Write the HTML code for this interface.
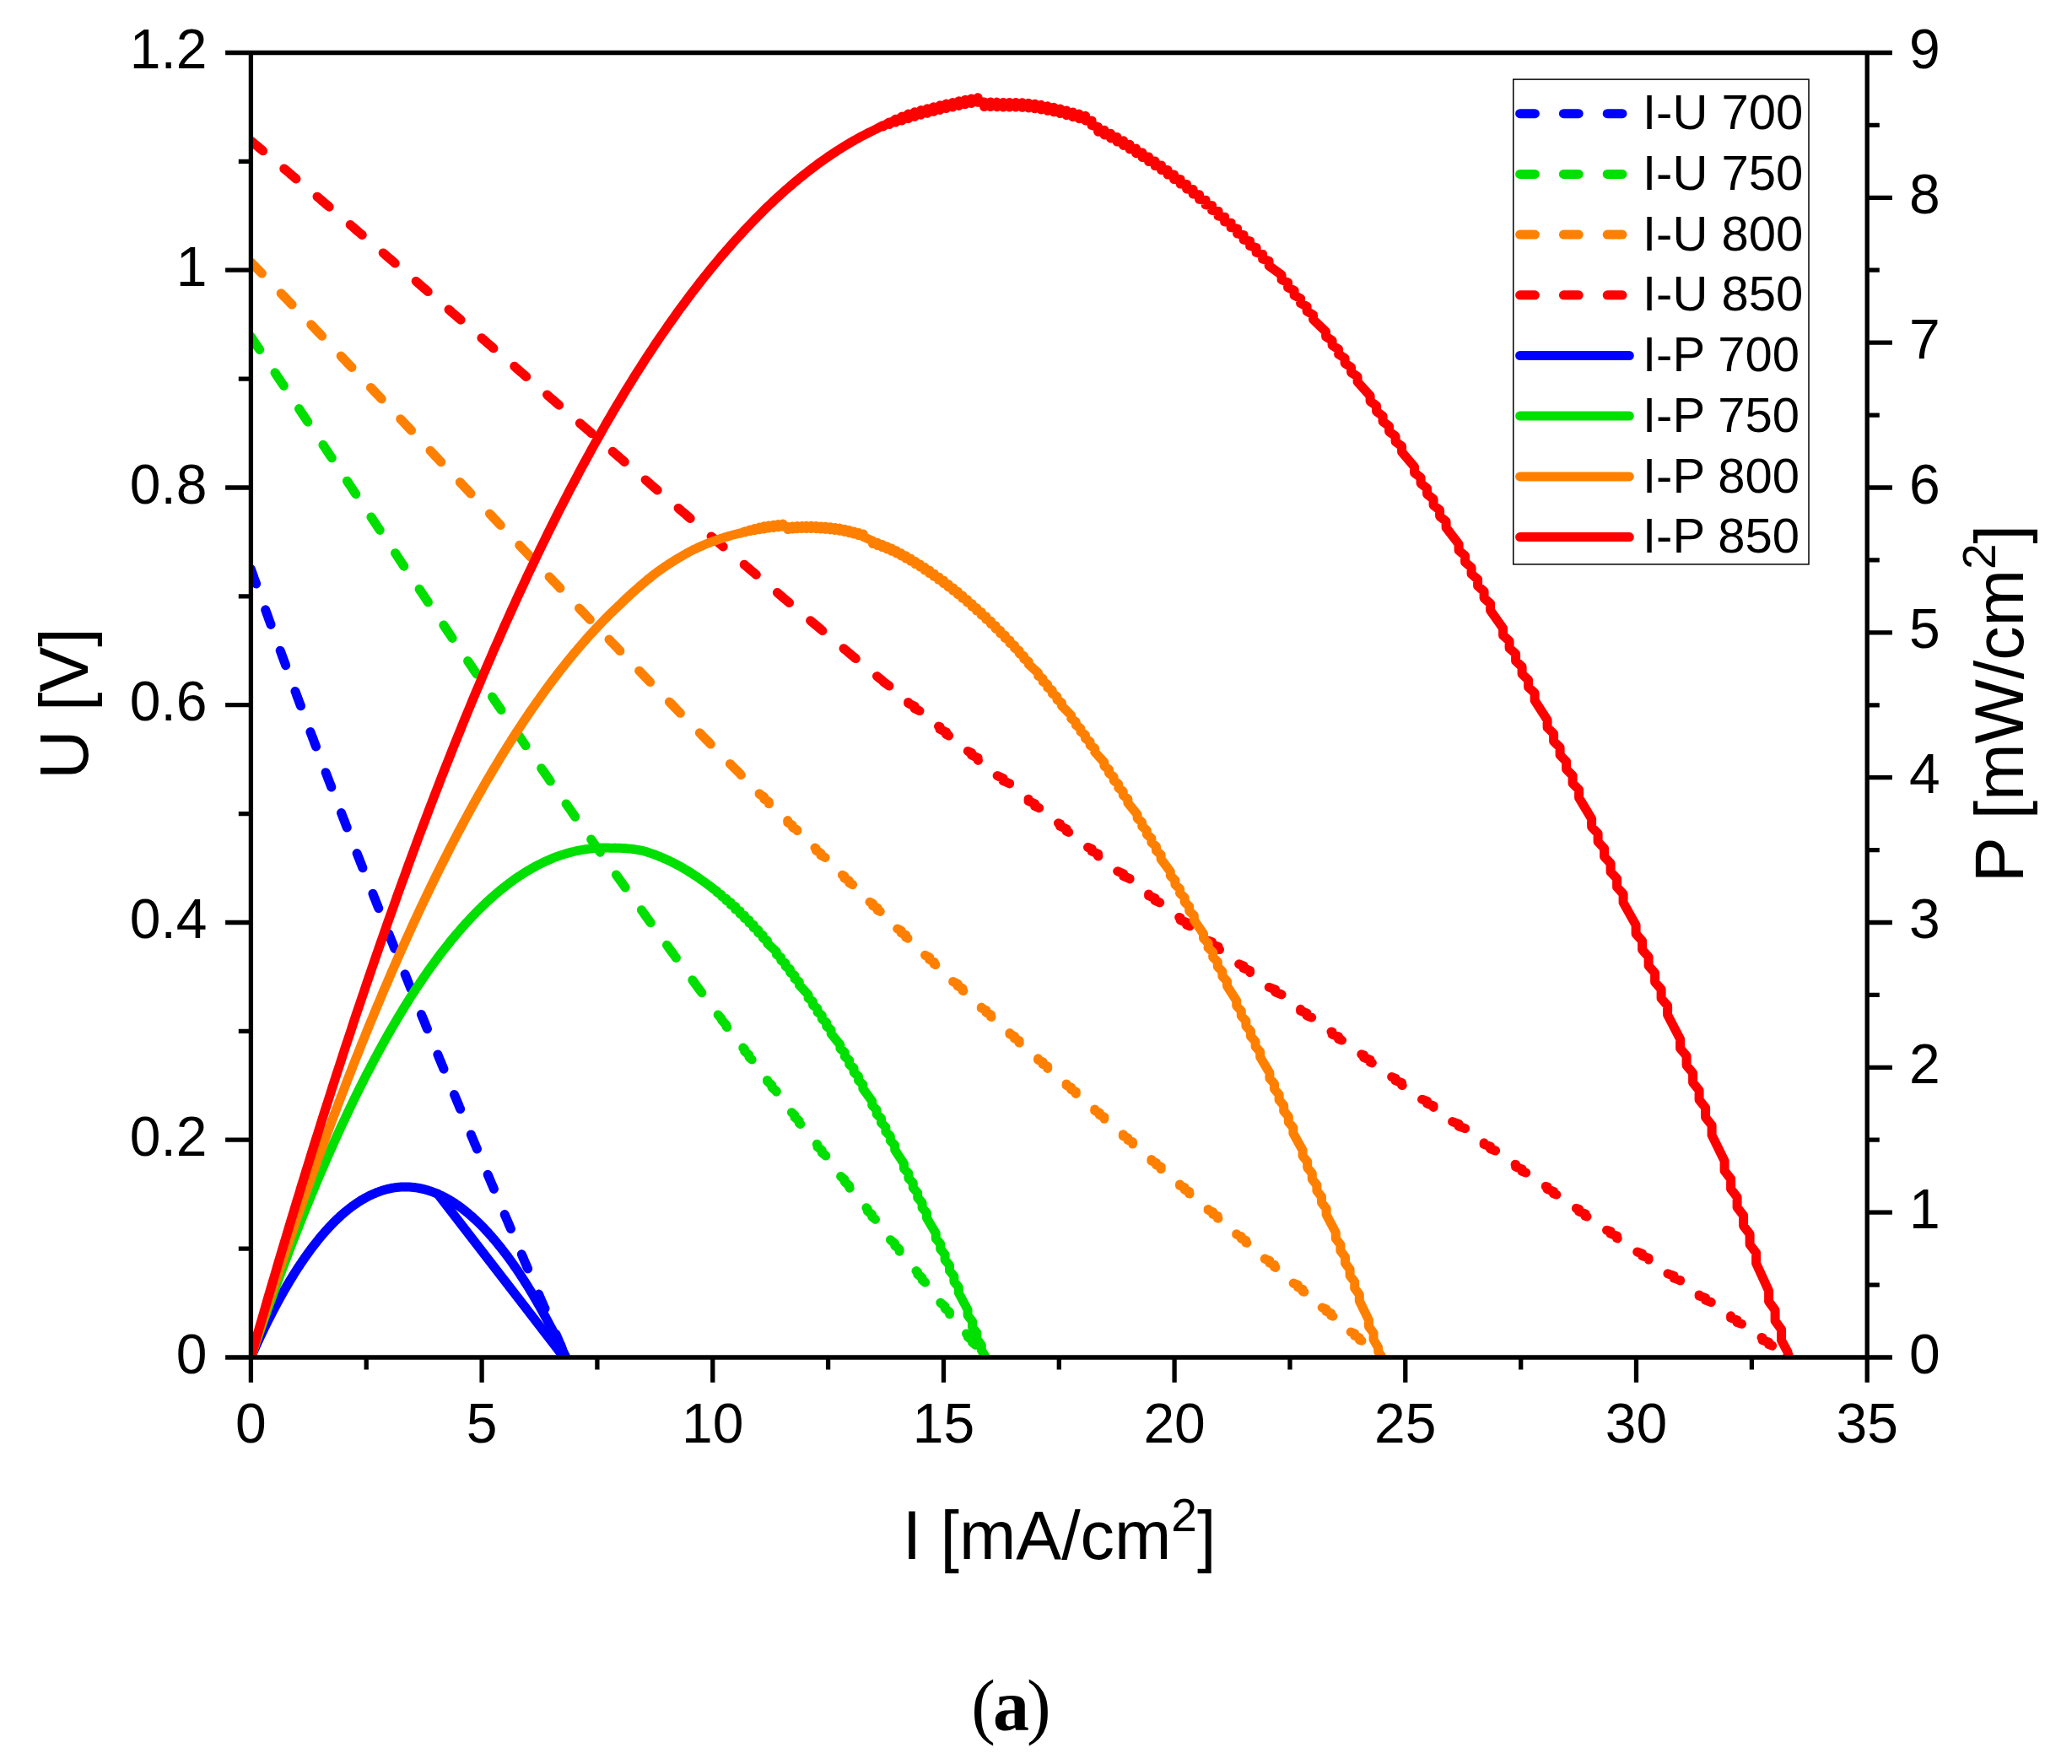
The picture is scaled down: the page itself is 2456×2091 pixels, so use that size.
<!DOCTYPE html>
<html lang="en"><head><meta charset="utf-8"><title>I-U and I-P curves</title>
<style>html,body{margin:0;padding:0;background:#fff}svg{display:block}text{font-family:"Liberation Sans", Arial, Helvetica, sans-serif;fill:#000}</style></head><body>
<svg width="2456" height="2091" viewBox="0 0 2456 2091">
<rect width="2456" height="2091" fill="#fff"/>
<defs><clipPath id="pa"><rect x="297.4" y="62.5" width="1915.8" height="1547.3"/></clipPath></defs>
<g clip-path="url(#pa)" fill="none" stroke-linejoin="round">
<polyline points="297.4,674.5 298.3,677.2 299.3,679.8 300.2,682.4 301.1,685.1 302.1,687.7 303.0,690.3 304.0,692.9 304.9,695.6 305.8,698.2 306.8,700.8 307.7,703.4 308.6,706.0 309.6,708.6 310.5,711.2 311.4,713.8 312.4,716.5 313.3,719.1 314.3,721.7 315.2,724.3 316.1,726.9 317.1,729.4 318.0,732.0 318.9,734.6 319.9,737.2 320.8,739.8 321.7,742.4 322.7,745.0 323.6,747.5 324.5,750.1 325.5,752.7 326.4,755.3 327.4,757.9 328.3,760.4 329.2,763.0 330.2,765.6 331.1,768.1 332.0,770.7 333.0,773.2 333.9,775.8 334.8,778.4 335.8,780.9 336.7,783.5 337.7,786.0 338.6,788.6 339.5,791.1 340.5,793.7 341.4,796.2 342.3,798.7 343.3,801.3 344.2,803.8 345.1,806.4 346.1,808.9 347.0,811.4 348.0,814.0 348.9,816.5 349.8,819.0 350.8,821.5 351.7,824.1 352.6,826.6 353.6,829.1 354.5,831.6 355.4,834.1 356.4,836.6 357.3,839.2 358.3,841.7 359.2,844.2 360.1,846.7 361.1,849.2 362.0,851.7 362.9,854.2 363.9,856.7 364.8,859.2 365.7,861.7 366.7,864.2 367.6,866.7 368.5,869.2 369.5,871.6 370.4,874.1 371.4,876.6 372.3,879.1 373.2,881.6 374.2,884.1 375.1,886.5 376.0,889.0 377.0,891.5 377.9,894.0 378.8,896.4 379.8,898.9 380.7,901.4 381.7,903.8 382.6,906.3 383.5,908.8 384.5,911.2 385.4,913.7 386.3,916.1 387.3,918.6 388.2,921.1 389.1,923.5 390.1,926.0 391.0,928.4 392.0,930.9 392.9,933.3 393.8,935.8 394.8,938.2 395.7,940.6 396.6,943.1 397.6,945.5 398.5,948.0 399.4,950.4 400.4,952.8 401.3,955.3 402.2,957.7 403.2,960.1 404.1,962.5 405.1,965.0 406.0,967.4 406.9,969.8 407.9,972.2 408.8,974.7 409.7,977.1 410.7,979.5 411.6,981.9 412.5,984.3 413.5,986.7 414.4,989.2 415.4,991.6 416.3,994.0 417.2,996.4 418.2,998.8 419.1,1001.2 420.0,1003.6 421.0,1006.0 421.9,1008.4 422.8,1010.8 423.8,1013.2 424.7,1015.6 425.7,1018.0 426.6,1020.4 427.5,1022.8 428.5,1025.1 429.4,1027.5 430.3,1029.9 431.3,1032.3 432.2,1034.7 433.1,1037.1 434.1,1039.4 435.0,1041.8 436.0,1044.2 436.9,1046.6 437.8,1049.0 438.8,1051.3 439.7,1053.7 440.6,1056.1 441.6,1058.4 442.5,1060.8 443.4,1063.2 444.4,1065.5 445.3,1067.9 446.2,1070.3 447.2,1072.6 448.1,1075.0 449.1,1077.4 450.0,1079.7 450.9,1082.1 451.9,1084.4 452.8,1086.8 453.7,1089.1 454.7,1091.5 455.6,1093.8 456.5,1096.2 457.5,1098.5 458.4,1100.9 459.4,1103.2 460.3,1105.6 461.2,1107.9 462.2,1110.3 463.1,1112.6 464.0,1114.9 465.0,1117.3 465.9,1119.6 466.8,1121.9 467.8,1124.3 468.7,1126.6 469.7,1128.9 470.6,1131.3 471.5,1133.6 472.5,1135.9 473.4,1138.3 474.3,1140.6 475.3,1142.9 476.2,1145.2 477.1,1147.5 478.1,1149.9 479.0,1152.2 480.0,1154.5 480.9,1156.8 481.8,1159.1 482.8,1161.5 483.7,1163.8 484.6,1166.1 485.6,1168.4 486.5,1170.7 487.4,1173.0 488.4,1175.3 489.3,1177.6 490.2,1179.9 491.2,1182.2 492.1,1184.5 493.1,1186.9 494.0,1189.2 494.9,1191.5 495.9,1193.8 496.8,1196.1 497.7,1198.4 498.7,1200.6 499.6,1202.9 500.5,1205.2 501.5,1207.5 502.4,1209.8 503.4,1212.1 504.3,1214.4 505.2,1216.7 506.2,1219.0 507.1,1221.3 508.0,1223.6 509.0,1225.8 509.9,1228.1 510.8,1230.4 511.8,1232.7 512.7,1235.0 513.7,1237.3 514.6,1239.5 515.5,1241.8 516.5,1244.1 517.4,1246.4 518.3,1248.6 519.3,1250.9 520.2,1253.2 521.1,1255.5 522.1,1257.7 523.0,1260.0 523.9,1262.3 524.9,1264.5 525.8,1266.8 526.8,1269.1 527.7,1271.3 528.6,1273.6 529.6,1275.9 530.5,1278.1 531.4,1280.4 532.4,1282.7 533.3,1284.9 534.2,1287.2 535.2,1289.4 536.1,1291.7 537.1,1293.9 538.0,1296.2 538.9,1298.5 539.9,1300.7 540.8,1303.0 541.7,1305.2 542.7,1307.5 543.6,1309.7 544.5,1312.0 545.5,1314.2 546.4,1316.5 547.4,1318.7 548.3,1321.0 549.2,1323.2 550.2,1325.4 551.1,1327.7 552.0,1329.9 553.0,1332.2 553.9,1334.4 554.8,1336.7 555.8,1338.9 556.7,1341.1 557.7,1343.4 558.6,1345.6 559.5,1347.8 560.5,1350.1 561.4,1352.3 562.3,1354.6 563.3,1356.8 564.2,1359.0 565.1,1361.2 566.1,1363.5 567.0,1365.7 567.9,1367.9 568.9,1370.2 569.8,1372.4 570.8,1374.6 571.7,1376.8 572.6,1379.1 573.6,1381.3 574.5,1383.5 575.4,1385.7 576.4,1388.0 577.3,1390.2 578.2,1392.4 579.2,1394.6 580.1,1396.8 581.1,1399.1 582.0,1401.3 582.9,1403.5 583.9,1405.7 584.8,1407.9 585.7,1410.1 586.7,1412.4 587.6,1414.6 588.5,1416.8 589.5,1419.0 590.4,1421.2 591.4,1423.4 592.3,1425.6 593.2,1427.8 594.2,1430.1 595.1,1432.3 596.0,1434.5 597.0,1436.7 597.9,1438.9 598.8,1441.1 599.8,1443.3 600.7,1445.5 601.7,1447.7 602.6,1449.9 603.5,1452.1 604.5,1454.3 605.4,1456.5 606.3,1458.7 607.3,1460.9 608.2,1463.1 609.1,1465.3 610.1,1467.5 611.0,1469.7 611.9,1471.9 612.9,1474.1 613.8,1476.3 614.8,1478.5 615.7,1480.7 616.6,1482.9 617.6,1485.1 618.5,1487.2 619.4,1489.4 620.4,1491.6 621.3,1493.8 622.2,1496.0 623.2,1498.2 624.1,1500.4 625.1,1502.6 626.0,1504.8 626.9,1506.9 627.9,1509.1 628.8,1511.3 629.7,1513.5 630.7,1515.7 631.6,1517.9 632.5,1520.0 633.5,1522.2 634.4,1524.4 635.4,1526.6 636.3,1528.8 637.2,1530.9 638.2,1533.1 639.1,1535.3 640.0,1537.5 641.0,1539.7 641.9,1541.8 642.8,1544.0 643.8,1546.2 644.7,1548.4 645.7,1550.5 646.6,1552.7 647.5,1554.9 648.5,1557.0 649.4,1559.2 650.3,1561.4 651.3,1563.6 652.2,1565.7 653.1,1567.9 654.1,1570.1 655.0,1572.2 655.9,1574.4 656.9,1576.6 657.8,1578.7 658.8,1580.9 659.7,1583.1 660.6,1585.2 661.6,1587.4 662.5,1589.6 663.4,1591.7 664.4,1593.9 665.3,1596.0 666.2,1598.2 667.2,1600.4 668.1,1602.5 669.1,1604.7 670.0,1606.8 670.9,1609.0" stroke="#0000ff" stroke-width="11" stroke-linecap="round" stroke-dasharray="18.6 32.8"/>
<polyline points="297.4,399.1 299.2,401.8 301.0,404.5 302.8,407.2 304.6,409.9 306.5,412.6 308.3,415.3 310.1,418.0 311.9,420.7 313.7,423.5 315.5,426.2 317.3,428.9 319.1,431.6 321.0,434.3 322.8,437.0 324.6,439.7 326.4,442.4 328.2,445.2 330.0,447.9 331.8,450.6 333.6,453.3 335.5,456.0 337.3,458.8 339.1,461.5 340.9,464.2 342.7,466.9 344.5,469.6 346.3,472.3 348.1,475.1 350.0,477.8 351.8,480.5 353.6,483.2 355.4,486.0 357.2,488.7 359.0,491.4 360.8,494.1 362.6,496.8 364.5,499.6 366.3,502.3 368.1,505.0 369.9,507.7 371.7,510.5 373.5,513.2 375.3,515.9 377.1,518.6 379.0,521.4 380.8,524.1 382.6,526.8 384.4,529.5 386.2,532.2 388.0,535.0 389.8,537.7 391.6,540.4 393.5,543.1 395.3,545.9 397.1,548.6 398.9,551.3 400.7,554.0 402.5,556.8 404.3,559.5 406.1,562.2 408.0,564.9 409.8,567.7 411.6,570.4 413.4,573.1 415.2,575.8 417.0,578.5 418.8,581.3 420.6,584.0 422.5,586.7 424.3,589.4 426.1,592.1 427.9,594.9 429.7,597.6 431.5,600.3 433.3,603.0 435.1,605.7 437.0,608.5 438.8,611.2 440.6,613.9 442.4,616.6 444.2,619.3 446.0,622.1 447.8,624.8 449.6,627.5 451.5,630.2 453.3,632.9 455.1,635.6 456.9,638.3 458.7,641.1 460.5,643.8 462.3,646.5 464.1,649.2 466.0,651.9 467.8,654.6 469.6,657.3 471.4,660.0 473.2,662.8 475.0,665.5 476.8,668.2 478.6,670.9 480.4,673.6 482.3,676.3 484.1,679.0 485.9,681.7 487.7,684.4 489.5,687.1 491.3,689.8 493.1,692.5 494.9,695.2 496.8,697.9 498.6,700.6 500.4,703.3 502.2,706.0 504.0,708.7 505.8,711.4 507.6,714.1 509.4,716.8 511.3,719.5 513.1,722.2 514.9,724.9 516.7,727.6 518.5,730.3 520.3,733.0 522.1,735.6 523.9,738.3 525.8,741.0 527.6,743.7 529.4,746.4 531.2,749.1 533.0,751.8 534.8,754.4 536.6,757.1 538.4,759.8 540.3,762.5 542.1,765.2 543.9,767.8 545.7,770.5 547.5,773.2 549.3,775.9 551.1,778.5 552.9,781.2 554.8,783.9 556.6,786.6 558.4,789.2 560.2,791.9 562.0,794.6 563.8,797.2 565.6,799.9 567.4,802.6 569.3,805.2 571.1,807.9 572.9,810.6 574.7,813.2 576.5,815.9 578.3,818.5 580.1,821.2 581.9,823.8 583.8,826.5 585.6,829.2 587.4,831.8 589.2,834.5 591.0,837.1 592.8,839.8 594.6,842.4 596.4,845.0 598.3,847.7 600.1,850.3 601.9,853.0 603.7,855.6 605.5,858.3 607.3,860.9 609.1,863.5 610.9,866.2 612.8,868.8 614.6,871.4 616.4,874.1 618.2,876.7 620.0,879.3 621.8,882.0 623.6,884.6 625.4,887.2 627.3,889.8 629.1,892.5 630.9,895.1 632.7,897.7 634.5,900.3 636.3,903.0 638.1,905.6 639.9,908.2 641.7,910.8 643.6,913.4 645.4,916.0 647.2,918.6 649.0,921.2 650.8,923.9 652.6,926.5 654.4,929.1 656.2,931.7 658.1,934.3 659.9,936.9 661.7,939.5 663.5,942.1 665.3,944.7 667.1,947.3 668.9,949.9 670.7,952.4 672.6,955.0 674.4,957.6 676.2,960.2 678.0,962.8 679.8,965.4 681.6,968.0 683.4,970.5 685.2,973.1 687.1,975.7 688.9,978.3 690.7,980.9 692.5,983.4 694.3,986.0 696.1,988.6 697.9,991.2 699.7,993.7 701.6,996.3 703.4,998.9 705.2,1001.4 707.0,1004.0 708.8,1006.5 710.6,1009.1 712.4,1011.7 714.2,1014.2 716.1,1016.8 717.9,1019.3 719.7,1021.9 721.5,1024.4 723.3,1027.0 725.1,1029.5 726.9,1032.1 728.7,1034.6 730.6,1037.2 732.4,1039.7 734.2,1042.2 736.0,1044.8 737.8,1047.3 739.6,1049.8 741.4,1052.4 743.2,1054.9 745.1,1057.4 746.9,1060.0 748.7,1062.5 750.5,1065.0 752.3,1067.5 754.1,1070.1 755.9,1072.6 757.7,1075.1 759.6,1077.6 761.4,1080.1 763.2,1082.7 765.0,1085.2 766.8,1087.7 768.6,1090.2 770.4,1092.7 772.2,1095.2 774.1,1097.7 775.9,1100.2 777.7,1102.7 779.5,1105.2 781.3,1107.7 783.1,1110.2 784.9,1112.7 786.7,1115.2 788.6,1117.7 790.4,1120.2 792.2,1122.7 794.0,1125.2 795.8,1127.7 797.6,1130.1 799.4,1132.6 801.2,1135.1 803.1,1137.6 804.9,1140.1 806.7,1142.5 808.5,1145.0 810.3,1147.5 812.1,1150.0 813.9,1152.4 815.7,1154.9 817.5,1157.4 819.4,1159.8 821.2,1162.3 823.0,1164.8 824.8,1167.2 826.6,1169.7 828.4,1172.1 830.2,1174.6 832.0,1177.0 833.9,1179.5 835.7,1182.0 837.5,1184.4 839.3,1186.9 844.7,1193.9 844.7,1194.3 850.1,1201.0 850.1,1201.8 855.5,1208.1 855.5,1209.3 860.9,1215.1 860.9,1216.7 866.3,1222.2 866.3,1224.1 871.7,1229.2 871.7,1231.5 877.1,1236.4 877.1,1238.8 882.5,1243.6 882.5,1246.0 887.9,1250.7 887.9,1253.1 893.3,1257.9 893.3,1260.3 898.7,1265.0 898.7,1267.4 904.1,1272.2 904.1,1274.6 909.5,1279.3 909.5,1281.7 914.9,1286.4 914.9,1288.8 920.3,1293.5 920.3,1295.9 925.7,1300.6 925.7,1303.0 931.1,1307.7 931.1,1310.1 936.5,1314.7 936.5,1317.1 941.9,1321.8 941.9,1324.2 947.3,1328.8 947.3,1331.2 952.7,1335.8 952.7,1338.2 958.1,1342.9 958.1,1345.3 963.5,1349.9 963.5,1352.3 968.9,1356.8 968.9,1359.2 974.3,1363.8 974.3,1366.2 979.7,1370.8 979.7,1373.2 985.1,1377.7 985.1,1380.1 990.5,1384.7 990.5,1387.1 995.9,1391.6 995.9,1394.0 1001.3,1398.5 1001.3,1400.9 1006.7,1405.4 1006.7,1407.8 1012.1,1412.3 1012.1,1414.7 1017.5,1419.2 1017.5,1421.6 1022.9,1426.1 1022.9,1428.5 1028.3,1433.0 1028.3,1435.4 1033.7,1439.8 1033.7,1442.2 1039.1,1446.7 1039.1,1449.1 1044.5,1453.5 1044.5,1455.9 1049.9,1460.4 1049.9,1462.8 1055.3,1467.2 1055.3,1469.6 1060.7,1474.0 1060.7,1476.4 1066.1,1480.8 1066.1,1483.2 1071.5,1487.6 1071.5,1490.0 1076.9,1494.4 1076.9,1496.8 1082.3,1501.2 1082.3,1503.6 1087.7,1508.0 1087.7,1510.4 1093.1,1514.8 1093.1,1517.2 1098.5,1521.5 1098.5,1523.9 1103.9,1528.3 1103.9,1530.7 1109.3,1535.0 1109.3,1537.4 1114.7,1541.8 1114.7,1544.2 1120.1,1548.5 1120.1,1550.9 1125.5,1555.3 1125.5,1557.7 1130.9,1562.0 1130.9,1564.4 1136.3,1568.7 1136.3,1571.1 1141.7,1575.4 1141.7,1577.8 1147.1,1582.2 1147.1,1584.6 1152.5,1588.9 1152.5,1591.3 1157.9,1595.6 1157.9,1598.0 1163.3,1602.3 1163.3,1604.7 1167.7,1607.8 1167.7,1610.2" stroke="#00e000" stroke-width="11" stroke-linecap="round" stroke-dasharray="18.6 32.8"/>
<polyline points="297.4,310.8 299.3,312.7 301.2,314.7 303.2,316.7 305.1,318.7 307.0,320.7 308.9,322.6 310.9,324.6 312.8,326.6 314.7,328.6 316.6,330.6 318.5,332.6 320.5,334.6 322.4,336.6 324.3,338.6 326.2,340.5 328.2,342.5 330.1,344.5 332.0,346.5 333.9,348.5 335.8,350.5 337.8,352.5 339.7,354.5 341.6,356.5 343.5,358.5 345.5,360.5 347.4,362.5 349.3,364.5 351.2,366.5 353.1,368.5 355.1,370.6 357.0,372.6 358.9,374.6 360.8,376.6 362.8,378.6 364.7,380.6 366.6,382.6 368.5,384.6 370.4,386.6 372.4,388.6 374.3,390.7 376.2,392.7 378.1,394.7 380.1,396.7 382.0,398.7 383.9,400.7 385.8,402.8 387.7,404.8 389.7,406.8 391.6,408.8 393.5,410.8 395.4,412.9 397.4,414.9 399.3,416.9 401.2,418.9 403.1,421.0 405.0,423.0 407.0,425.0 408.9,427.0 410.8,429.1 412.7,431.1 414.7,433.1 416.6,435.1 418.5,437.2 420.4,439.2 422.3,441.2 424.3,443.3 426.2,445.3 428.1,447.3 430.0,449.4 432.0,451.4 433.9,453.4 435.8,455.5 437.7,457.5 439.6,459.5 441.6,461.6 443.5,463.6 445.4,465.6 447.3,467.7 449.3,469.7 451.2,471.7 453.1,473.8 455.0,475.8 456.9,477.8 458.9,479.9 460.8,481.9 462.7,484.0 464.6,486.0 466.6,488.0 468.5,490.1 470.4,492.1 472.3,494.2 474.2,496.2 476.2,498.2 478.1,500.3 480.0,502.3 481.9,504.4 483.9,506.4 485.8,508.4 487.7,510.5 489.6,512.5 491.5,514.6 493.5,516.6 495.4,518.6 497.3,520.7 499.2,522.7 501.2,524.8 503.1,526.8 505.0,528.8 506.9,530.9 508.8,532.9 510.8,535.0 512.7,537.0 514.6,539.1 516.5,541.1 518.5,543.1 520.4,545.2 522.3,547.2 524.2,549.3 526.1,551.3 528.1,553.4 530.0,555.4 531.9,557.4 533.8,559.5 535.8,561.5 537.7,563.6 539.6,565.6 541.5,567.6 543.4,569.7 545.4,571.7 547.3,573.8 549.2,575.8 551.1,577.9 553.1,579.9 555.0,581.9 556.9,584.0 558.8,586.0 560.7,588.1 562.7,590.1 564.6,592.1 566.5,594.2 568.4,596.2 570.4,598.3 572.3,600.3 574.2,602.3 576.1,604.4 578.0,606.4 580.0,608.5 581.9,610.5 583.8,612.5 585.7,614.6 587.7,616.6 589.6,618.7 591.5,620.7 593.4,622.7 595.3,624.8 597.3,626.8 599.2,628.8 601.1,630.9 603.0,632.9 605.0,635.0 606.9,637.0 608.8,639.0 610.7,641.1 612.6,643.1 614.6,645.1 616.5,647.2 618.4,649.2 620.3,651.2 622.3,653.3 624.2,655.3 626.1,657.3 628.0,659.4 629.9,661.4 631.9,663.4 633.8,665.4 635.7,667.5 637.6,669.5 639.6,671.5 641.5,673.6 643.4,675.6 645.3,677.6 647.2,679.6 649.2,681.7 651.1,683.7 653.0,685.7 654.9,687.8 656.9,689.8 658.8,691.8 660.7,693.8 662.6,695.8 664.5,697.9 666.5,699.9 668.4,701.9 670.3,703.9 672.2,706.0 674.2,708.0 676.1,710.0 678.0,712.0 679.9,714.0 681.8,716.1 683.8,718.1 685.7,720.1 687.6,722.1 689.5,724.1 691.5,726.1 693.4,728.1 695.3,730.2 697.2,732.2 699.1,734.2 701.1,736.2 703.0,738.2 704.9,740.2 706.8,742.2 708.8,744.2 710.7,746.3 712.6,748.3 714.5,750.3 716.4,752.3 718.4,754.3 720.3,756.3 722.2,758.3 724.1,760.3 726.1,762.3 728.0,764.3 729.9,766.3 731.8,768.3 733.7,770.3 735.7,772.3 737.6,774.3 739.5,776.3 741.4,778.3 743.4,780.3 745.3,782.3 747.2,784.3 749.1,786.3 751.0,788.3 753.0,790.3 754.9,792.3 756.8,794.3 758.7,796.2 760.7,798.2 762.6,800.2 764.5,802.2 766.4,804.2 768.3,806.2 770.3,808.2 772.2,810.2 774.1,812.2 776.0,814.1 778.0,816.1 779.9,818.1 781.8,820.1 783.7,822.1 785.6,824.0 787.6,826.0 789.5,828.0 791.4,830.0 793.3,832.0 795.3,833.9 797.2,835.9 799.1,837.9 801.0,839.9 802.9,841.8 804.9,843.8 806.8,845.8 808.7,847.7 810.6,849.7 812.6,851.7 814.5,853.6 816.4,855.6 818.3,857.6 820.2,859.5 822.2,861.5 824.1,863.5 826.0,865.4 827.9,867.4 829.9,869.3 831.8,871.3 833.7,873.3 835.6,875.2 837.5,877.2 839.5,879.1 841.4,881.1 843.3,883.0 845.2,885.0 847.2,886.9 849.1,888.9 851.0,890.8 852.9,892.8 854.8,894.7 856.8,896.7 858.7,898.6 860.6,900.6 862.5,902.5 864.5,904.5 866.4,906.4 868.3,908.3 870.2,910.3 872.1,912.2 877.7,917.7 877.7,918.1 883.3,923.1 883.3,923.9 888.9,928.5 888.9,929.7 894.5,933.9 894.5,935.6 900.1,939.3 900.1,941.4 905.7,944.8 905.7,947.2 911.3,950.3 911.3,952.7 916.9,955.9 916.9,958.3 922.5,961.5 922.5,963.9 928.1,967.1 928.1,969.5 933.7,972.6 933.7,975.0 939.3,978.2 939.3,980.6 944.9,983.7 944.9,986.1 950.5,989.2 950.5,991.6 956.1,994.8 956.1,997.2 961.7,1000.3 961.7,1002.7 967.3,1005.8 967.3,1008.2 972.9,1011.3 972.9,1013.7 978.5,1016.7 978.5,1019.1 984.1,1022.2 984.1,1024.6 989.7,1027.7 989.7,1030.1 995.3,1033.1 995.3,1035.5 1000.9,1038.6 1000.9,1041.0 1006.5,1044.0 1006.5,1046.4 1012.1,1049.5 1012.1,1051.9 1017.7,1054.9 1017.7,1057.3 1023.3,1060.3 1023.3,1062.7 1028.9,1065.7 1028.9,1068.1 1034.5,1071.1 1034.5,1073.5 1040.1,1076.4 1040.1,1078.8 1045.7,1081.8 1045.7,1084.2 1051.3,1087.2 1051.3,1089.6 1056.9,1092.5 1056.9,1094.9 1062.5,1097.9 1062.5,1100.3 1068.1,1103.2 1068.1,1105.6 1073.7,1108.5 1073.7,1110.9 1079.3,1113.9 1079.3,1116.3 1084.9,1119.2 1084.9,1121.6 1090.5,1124.5 1090.5,1126.9 1096.1,1129.7 1096.1,1132.1 1101.7,1135.0 1101.7,1137.4 1107.3,1140.3 1107.3,1142.7 1112.9,1145.5 1112.9,1147.9 1118.5,1150.8 1118.5,1153.2 1124.1,1156.0 1124.1,1158.4 1129.7,1161.3 1129.7,1163.7 1135.3,1166.5 1135.3,1168.9 1140.9,1171.7 1140.9,1174.1 1146.5,1176.9 1146.5,1179.3 1152.1,1182.1 1152.1,1184.5 1157.7,1187.3 1157.7,1189.7 1163.3,1192.5 1163.3,1194.9 1168.9,1197.6 1168.9,1200.0 1174.5,1202.8 1174.5,1205.2 1180.1,1208.0 1180.1,1210.4 1185.7,1213.1 1185.7,1215.5 1191.3,1218.2 1191.3,1220.6 1196.9,1223.4 1196.9,1225.8 1202.5,1228.5 1202.5,1230.9 1208.1,1233.6 1208.1,1236.0 1213.7,1238.7 1213.7,1241.1 1219.3,1243.8 1219.3,1246.2 1224.9,1248.9 1224.9,1251.3 1230.5,1253.9 1230.5,1256.3 1236.1,1259.0 1236.1,1261.4 1241.7,1264.1 1241.7,1266.5 1247.3,1269.1 1247.3,1271.5 1252.9,1274.1 1252.9,1276.5 1258.5,1279.2 1258.5,1281.6 1264.1,1284.2 1264.1,1286.6 1269.7,1289.2 1269.7,1291.6 1275.3,1294.2 1275.3,1296.6 1280.9,1299.2 1280.9,1301.6 1286.5,1304.2 1286.5,1306.6 1292.1,1309.2 1292.1,1311.6 1297.7,1314.2 1297.7,1316.6 1303.3,1319.2 1303.3,1321.6 1308.9,1324.2 1308.9,1326.6 1314.5,1329.1 1314.5,1331.5 1320.1,1334.1 1320.1,1336.5 1325.7,1339.0 1325.7,1341.4 1331.3,1344.0 1331.3,1346.4 1336.9,1348.9 1336.9,1351.3 1342.5,1353.8 1342.5,1356.2 1348.1,1358.8 1348.1,1361.2 1353.7,1363.7 1353.7,1366.1 1359.3,1368.6 1359.3,1371.0 1364.9,1373.5 1364.9,1375.9 1370.5,1378.4 1370.5,1380.8 1376.1,1383.3 1376.1,1385.7 1381.7,1388.2 1381.7,1390.6 1387.3,1393.0 1387.3,1395.4 1392.9,1397.9 1392.9,1400.3 1398.5,1402.8 1398.5,1405.2 1404.1,1407.7 1404.1,1410.1 1409.7,1412.5 1409.7,1414.9 1415.3,1417.4 1415.3,1419.8 1420.9,1422.2 1420.9,1424.6 1426.5,1427.1 1426.5,1429.5 1432.1,1431.9 1432.1,1434.3 1437.7,1436.8 1437.7,1439.2 1443.3,1441.6 1443.3,1444.0 1448.9,1446.4 1448.9,1448.8 1454.5,1451.3 1454.5,1453.7 1460.1,1456.1 1460.1,1458.5 1465.7,1460.9 1465.7,1463.3 1471.3,1465.7 1471.3,1468.1 1476.9,1470.5 1476.9,1472.9 1482.5,1475.4 1482.5,1477.8 1488.1,1480.2 1488.1,1482.6 1493.7,1485.0 1493.7,1487.4 1499.3,1489.8 1499.3,1492.2 1504.9,1494.6 1504.9,1497.0 1510.5,1499.4 1510.5,1501.8 1516.1,1504.2 1516.1,1506.6 1521.7,1509.0 1521.7,1511.4 1527.3,1513.8 1527.3,1516.2 1532.9,1518.6 1532.9,1521.0 1538.5,1523.4 1538.5,1525.8 1544.1,1528.2 1544.1,1530.6 1549.7,1533.0 1549.7,1535.4 1555.3,1537.7 1555.3,1540.1 1560.9,1542.5 1560.9,1544.9 1566.5,1547.3 1566.5,1549.7 1572.1,1552.1 1572.1,1554.5 1577.7,1556.9 1577.7,1559.3 1583.3,1561.7 1583.3,1564.1 1588.9,1566.5 1588.9,1568.9 1594.5,1571.3 1594.5,1573.7 1600.1,1576.1 1600.1,1578.5 1605.7,1580.9 1605.7,1583.3 1611.3,1585.7 1611.3,1588.1 1616.9,1590.5 1616.9,1592.9 1622.5,1595.3 1622.5,1597.7 1628.1,1600.1 1628.1,1602.5 1633.7,1604.9 1633.7,1607.3 1637.1,1607.8 1637.1,1610.2" stroke="#ff8000" stroke-width="11" stroke-linecap="round" stroke-dasharray="18.6 32.8"/>
<polyline points="297.4,166.9 299.9,169.0 302.4,171.1 304.8,173.1 307.3,175.2 309.8,177.3 312.3,179.4 314.8,181.5 317.2,183.5 319.7,185.6 322.2,187.7 324.7,189.8 327.2,191.9 329.6,194.0 332.1,196.0 334.6,198.1 337.1,200.2 339.6,202.3 342.1,204.4 344.5,206.5 347.0,208.6 349.5,210.7 352.0,212.8 354.5,214.9 356.9,217.0 359.4,219.1 361.9,221.2 364.4,223.3 366.9,225.4 369.3,227.5 371.8,229.6 374.3,231.7 376.8,233.8 379.3,235.9 381.7,238.0 384.2,240.1 386.7,242.2 389.2,244.3 391.7,246.4 394.1,248.6 396.6,250.7 399.1,252.8 401.6,254.9 404.1,257.0 406.5,259.1 409.0,261.2 411.5,263.4 414.0,265.5 416.5,267.6 418.9,269.7 421.4,271.8 423.9,274.0 426.4,276.1 428.9,278.2 431.4,280.3 433.8,282.5 436.3,284.6 438.8,286.7 441.3,288.8 443.8,291.0 446.2,293.1 448.7,295.2 451.2,297.4 453.7,299.5 456.2,301.6 458.6,303.8 461.1,305.9 463.6,308.0 466.1,310.1 468.6,312.3 471.0,314.4 473.5,316.6 476.0,318.7 478.5,320.8 481.0,323.0 483.4,325.1 485.9,327.2 488.4,329.4 490.9,331.5 493.4,333.6 495.8,335.8 498.3,337.9 500.8,340.1 503.3,342.2 505.8,344.4 508.2,346.5 510.7,348.6 513.2,350.8 515.7,352.9 518.2,355.1 520.7,357.2 523.1,359.4 525.6,361.5 528.1,363.6 530.6,365.8 533.1,367.9 535.5,370.1 538.0,372.2 540.5,374.4 543.0,376.5 545.5,378.7 547.9,380.8 550.4,383.0 552.9,385.1 555.4,387.2 557.9,389.4 560.3,391.5 562.8,393.7 565.3,395.8 567.8,398.0 570.3,400.1 572.7,402.3 575.2,404.4 577.7,406.6 580.2,408.7 582.7,410.9 585.1,413.0 587.6,415.2 590.1,417.3 592.6,419.5 595.1,421.6 597.5,423.8 600.0,425.9 602.5,428.1 605.0,430.2 607.5,432.4 610.0,434.5 612.4,436.7 614.9,438.8 617.4,441.0 619.9,443.1 622.4,445.3 624.8,447.4 627.3,449.6 629.8,451.7 632.3,453.9 634.8,456.1 637.2,458.2 639.7,460.4 642.2,462.5 644.7,464.7 647.2,466.8 649.6,469.0 652.1,471.1 654.6,473.3 657.1,475.4 659.6,477.6 662.0,479.7 664.5,481.9 667.0,484.0 669.5,486.2 672.0,488.3 674.4,490.5 676.9,492.6 679.4,494.8 681.9,496.9 684.4,499.1 686.8,501.2 689.3,503.3 691.8,505.5 694.3,507.6 696.8,509.8 699.3,511.9 701.7,514.1 704.2,516.2 706.7,518.4 709.2,520.5 711.7,522.7 714.1,524.8 716.6,527.0 719.1,529.1 721.6,531.3 724.1,533.4 726.5,535.5 729.0,537.7 731.5,539.8 734.0,542.0 736.5,544.1 738.9,546.3 741.4,548.4 743.9,550.5 746.4,552.7 748.9,554.8 751.3,557.0 753.8,559.1 756.3,561.3 758.8,563.4 761.3,565.5 763.7,567.7 766.2,569.8 768.7,571.9 771.2,574.1 773.7,576.2 776.1,578.4 778.6,580.5 781.1,582.6 783.6,584.8 786.1,586.9 788.6,589.0 791.0,591.2 793.5,593.3 796.0,595.4 798.5,597.6 801.0,599.7 803.4,601.8 805.9,604.0 808.4,606.1 810.9,608.2 813.4,610.4 815.8,612.5 818.3,614.6 820.8,616.7 823.3,618.9 825.8,621.0 828.2,623.1 830.7,625.3 833.2,627.4 835.7,629.5 838.2,631.6 840.6,633.7 843.1,635.9 845.6,638.0 848.1,640.1 850.6,642.2 853.0,644.4 855.5,646.5 858.0,648.6 860.5,650.7 863.0,652.8 865.4,655.0 867.9,657.1 870.4,659.2 872.9,661.3 875.4,663.4 877.9,665.5 880.3,667.6 882.8,669.8 885.3,671.9 887.8,674.0 890.3,676.1 892.7,678.2 895.2,680.3 897.7,682.4 900.2,684.5 902.7,686.6 905.1,688.7 907.6,690.8 910.1,692.9 912.6,695.1 915.1,697.2 917.5,699.3 920.0,701.4 922.5,703.5 925.0,705.6 927.5,707.7 929.9,709.8 932.4,711.9 934.9,714.0 937.4,716.1 939.9,718.1 942.3,720.2 944.8,722.3 947.3,724.4 949.8,726.5 952.3,728.6 954.7,730.7 957.2,732.8 959.7,734.9 962.2,737.0 964.7,739.1 967.2,741.1 969.6,743.2 972.1,745.3 974.6,747.4 977.1,749.5 979.6,751.6 982.0,753.7 984.5,755.7 987.0,757.8 989.5,759.9 992.0,762.0 994.4,764.0 996.9,766.1 999.4,768.2 1001.9,770.3 1004.4,772.3 1006.8,774.4 1009.3,776.5 1011.8,778.6 1014.3,780.6 1016.8,782.7 1019.2,784.8 1021.7,786.8 1024.2,788.9 1026.7,791.0 1029.2,793.0 1031.6,795.1 1034.1,797.2 1036.6,799.2 1039.1,801.3 1046.6,807.2 1046.6,807.8 1054.1,813.1 1054.1,814.3 1061.6,819.0 1061.6,820.8 1069.1,824.9 1069.1,827.3 1076.6,831.0 1076.6,833.6 1084.1,837.2 1084.1,839.8 1091.6,843.4 1091.6,846.0 1099.1,849.5 1099.1,852.1 1106.6,855.7 1106.6,858.3 1114.1,861.8 1114.1,864.4 1121.6,868.0 1121.6,870.6 1129.1,874.1 1129.1,876.7 1136.6,880.2 1136.6,882.8 1144.1,886.3 1144.1,888.9 1151.6,892.4 1151.6,895.0 1159.1,898.5 1159.1,901.1 1166.6,904.6 1166.6,907.2 1174.1,910.7 1174.1,913.3 1181.6,916.7 1181.6,919.3 1189.1,922.8 1189.1,925.4 1196.6,928.8 1196.6,931.4 1204.1,934.8 1204.1,937.4 1211.6,940.8 1211.6,943.4 1219.1,946.9 1219.1,949.5 1226.6,952.8 1226.6,955.4 1234.1,958.8 1234.1,961.4 1241.6,964.8 1241.6,967.4 1249.1,970.8 1249.1,973.4 1256.6,976.7 1256.6,979.3 1264.1,982.7 1264.1,985.3 1271.6,988.6 1271.6,991.2 1279.1,994.5 1279.1,997.1 1286.6,1000.5 1286.6,1003.1 1294.1,1006.4 1294.1,1009.0 1301.6,1012.3 1301.6,1014.9 1309.1,1018.2 1309.1,1020.8 1316.6,1024.0 1316.6,1026.6 1324.1,1029.9 1324.1,1032.5 1331.6,1035.8 1331.6,1038.4 1339.1,1041.6 1339.1,1044.2 1346.6,1047.4 1346.6,1050.0 1354.1,1053.3 1354.1,1055.9 1361.6,1059.1 1361.6,1061.7 1369.1,1064.9 1369.1,1067.5 1376.6,1070.7 1376.6,1073.3 1384.1,1076.5 1384.1,1079.1 1391.6,1082.2 1391.6,1084.8 1399.1,1088.0 1399.1,1090.6 1406.6,1093.7 1406.6,1096.3 1414.1,1099.5 1414.1,1102.1 1421.6,1105.2 1421.6,1107.8 1429.1,1110.9 1429.1,1113.5 1436.6,1116.7 1436.6,1119.3 1444.1,1122.4 1444.1,1125.0 1451.6,1128.1 1451.6,1130.7 1459.1,1133.7 1459.1,1136.3 1466.6,1139.4 1466.6,1142.0 1474.1,1145.1 1474.1,1147.7 1481.6,1150.7 1481.6,1153.3 1489.1,1156.4 1489.1,1159.0 1496.6,1162.0 1496.6,1164.6 1504.1,1167.6 1504.1,1170.2 1511.6,1173.2 1511.6,1175.8 1519.1,1178.9 1519.1,1181.5 1526.6,1184.5 1526.6,1187.1 1534.1,1190.0 1534.1,1192.6 1541.6,1195.6 1541.6,1198.2 1549.1,1201.2 1549.1,1203.8 1556.6,1206.8 1556.6,1209.4 1564.1,1212.3 1564.1,1214.9 1571.6,1217.8 1571.6,1220.4 1579.1,1223.4 1579.1,1226.0 1586.6,1228.9 1586.6,1231.5 1594.1,1234.4 1594.1,1237.0 1601.6,1239.9 1601.6,1242.5 1609.1,1245.4 1609.1,1248.0 1616.6,1250.9 1616.6,1253.5 1624.1,1256.4 1624.1,1259.0 1631.6,1261.9 1631.6,1264.5 1639.1,1267.3 1639.1,1269.9 1646.6,1272.8 1646.6,1275.4 1654.1,1278.3 1654.1,1280.9 1661.6,1283.7 1661.6,1286.3 1669.1,1289.1 1669.1,1291.7 1676.6,1294.6 1676.6,1297.2 1684.1,1300.0 1684.1,1302.6 1691.6,1305.4 1691.6,1308.0 1699.1,1310.8 1699.1,1313.4 1706.6,1316.2 1706.6,1318.8 1714.1,1321.6 1714.1,1324.2 1721.6,1327.0 1721.6,1329.6 1729.1,1332.4 1729.1,1335.0 1736.6,1337.7 1736.6,1340.3 1744.1,1343.1 1744.1,1345.7 1751.6,1348.5 1751.6,1351.1 1759.1,1353.8 1759.1,1356.4 1766.6,1359.2 1766.6,1361.8 1774.1,1364.5 1774.1,1367.1 1781.6,1369.8 1781.6,1372.4 1789.1,1375.2 1789.1,1377.8 1796.6,1380.5 1796.6,1383.1 1804.1,1385.8 1804.1,1388.4 1811.6,1391.1 1811.6,1393.7 1819.1,1396.4 1819.1,1399.0 1826.6,1401.7 1826.6,1404.3 1834.1,1407.0 1834.1,1409.6 1841.6,1412.3 1841.6,1414.9 1849.1,1417.6 1849.1,1420.2 1856.6,1422.9 1856.6,1425.5 1864.1,1428.2 1864.1,1430.8 1871.6,1433.5 1871.6,1436.1 1879.1,1438.8 1879.1,1441.4 1886.6,1444.0 1886.6,1446.6 1894.1,1449.3 1894.1,1451.9 1901.6,1454.6 1901.6,1457.2 1909.1,1459.8 1909.1,1462.4 1916.6,1465.1 1916.6,1467.7 1924.1,1470.4 1924.1,1473.0 1931.6,1475.6 1931.6,1478.2 1939.1,1480.9 1939.1,1483.5 1946.6,1486.1 1946.6,1488.7 1954.1,1491.4 1954.1,1494.0 1961.6,1496.6 1961.6,1499.2 1969.1,1501.9 1969.1,1504.5 1976.6,1507.1 1976.6,1509.7 1984.1,1512.4 1984.1,1515.0 1991.6,1517.6 1991.6,1520.2 1999.1,1522.9 1999.1,1525.5 2006.6,1528.1 2006.6,1530.7 2014.1,1533.4 2014.1,1536.0 2021.6,1538.6 2021.6,1541.2 2029.1,1543.9 2029.1,1546.5 2036.6,1549.1 2036.6,1551.7 2044.1,1554.4 2044.1,1557.0 2051.6,1559.6 2051.6,1562.2 2059.1,1564.9 2059.1,1567.5 2066.6,1570.1 2066.6,1572.7 2074.1,1575.4 2074.1,1578.0 2081.6,1580.6 2081.6,1583.2 2089.1,1585.9 2089.1,1588.5 2096.6,1591.1 2096.6,1593.7 2104.1,1596.4 2104.1,1599.0 2111.6,1601.7 2111.6,1604.3 2119.1,1607.0 2119.1,1609.6 2120.1,1607.7 2120.1,1610.3" stroke="#ff0000" stroke-width="11" stroke-linecap="round" stroke-dasharray="18.6 32.8"/>
<polyline points="297.4,1609.0 298.6,1606.2 299.9,1603.4 301.1,1600.6 302.4,1597.8 303.6,1595.0 304.9,1592.3 306.1,1589.6 307.4,1586.9 308.6,1584.3 309.9,1581.6 311.1,1579.0 312.4,1576.4 313.6,1573.8 314.9,1571.3 316.1,1568.7 317.4,1566.2 318.6,1563.7 319.9,1561.3 321.1,1558.8 322.4,1556.4 323.6,1554.0 324.9,1551.6 326.1,1549.2 327.4,1546.8 328.6,1544.5 329.9,1542.2 331.1,1539.9 332.4,1537.7 333.6,1535.4 334.9,1533.2 336.1,1531.0 337.4,1528.8 338.6,1526.6 339.9,1524.5 341.1,1522.4 342.4,1520.2 343.6,1518.2 344.9,1516.1 346.1,1514.1 347.4,1512.0 348.6,1510.0 349.9,1508.0 351.1,1506.1 352.4,1504.1 353.6,1502.2 354.9,1500.3 356.1,1498.4 357.4,1496.6 358.6,1494.7 359.9,1492.9 361.1,1491.1 362.4,1489.3 363.6,1487.6 364.9,1485.8 366.1,1484.1 367.4,1482.4 368.6,1480.7 369.9,1479.0 371.1,1477.4 372.4,1475.8 373.6,1474.2 374.9,1472.6 376.1,1471.0 377.4,1469.5 378.6,1467.9 379.9,1466.4 381.1,1464.9 382.3,1463.5 383.6,1462.0 384.8,1460.6 386.1,1459.2 387.3,1457.8 388.6,1456.4 389.8,1455.1 391.1,1453.7 392.3,1452.4 393.6,1451.1 394.8,1449.8 396.1,1448.6 397.3,1447.3 398.6,1446.1 399.8,1444.9 401.1,1443.7 402.3,1442.6 403.6,1441.4 404.8,1440.3 406.1,1439.2 407.3,1438.1 408.6,1437.0 409.8,1436.0 411.1,1435.0 412.3,1434.0 413.6,1433.0 414.8,1432.0 416.1,1431.0 417.3,1430.1 418.6,1429.2 419.8,1428.3 421.1,1427.4 422.3,1426.6 423.6,1425.7 424.8,1424.9 426.1,1424.1 427.3,1423.3 428.6,1422.5 429.8,1421.8 431.1,1421.1 432.3,1420.3 433.6,1419.7 434.8,1419.0 436.1,1418.3 437.3,1417.7 438.6,1417.1 439.8,1416.5 441.1,1415.9 442.3,1415.3 443.6,1414.8 444.8,1414.3 446.1,1413.7 447.3,1413.3 448.6,1412.8 449.8,1412.3 451.1,1411.9 452.3,1411.5 453.6,1411.1 454.8,1410.7 456.1,1410.3 457.3,1410.0 458.6,1409.7 459.8,1409.4 461.1,1409.1 462.3,1408.8 463.6,1408.5 464.8,1408.3 466.0,1408.1 467.3,1407.9 468.5,1407.7 469.8,1407.6 471.0,1407.4 472.3,1407.3 473.5,1407.2 474.8,1407.1 476.0,1407.0 477.3,1407.0 478.5,1406.9 479.8,1406.9 481.0,1406.9 482.3,1406.9 483.5,1407.0 484.8,1407.0 486.0,1407.1 487.3,1407.2 488.5,1407.3 489.8,1407.4 491.0,1407.5 492.3,1407.7 493.5,1407.9 494.8,1408.1 496.0,1408.3 497.3,1408.5 498.5,1408.8 499.8,1409.0 501.0,1409.3 502.3,1409.6 503.5,1409.9 504.8,1410.3 506.0,1410.6 507.3,1411.0 508.5,1411.4 509.8,1411.8 511.0,1412.2 512.3,1412.7 513.5,1413.1 514.8,1413.6 516.0,1414.1 517.3,1414.6 518.5,1415.1 519.8,1415.7 521.0,1416.3 522.3,1416.8 523.5,1417.4 524.8,1418.1 526.0,1418.7 527.3,1419.4 528.5,1420.0 529.8,1420.7 531.0,1421.4 532.3,1422.1 533.5,1422.9 534.8,1423.6 536.0,1424.4 537.3,1425.2 538.5,1426.0 539.8,1426.8 541.0,1427.7 542.3,1428.6 543.5,1429.4 544.8,1430.3 546.0,1431.2 547.3,1432.2 548.5,1433.1 549.7,1434.1 551.0,1435.1 552.2,1436.1 553.5,1437.1 554.7,1438.1 556.0,1439.2 557.2,1440.3 558.5,1441.3 559.7,1442.4 561.0,1443.6 562.2,1444.7 563.5,1445.9 564.7,1447.0 566.0,1448.2 567.2,1449.4 568.5,1450.7 569.7,1451.9 571.0,1453.2 572.2,1454.4 573.5,1455.7 574.7,1457.0 576.0,1458.4 577.2,1459.7 578.5,1461.1 579.7,1462.5 581.0,1463.9 582.2,1465.3 583.5,1466.7 584.7,1468.2 586.0,1469.6 587.2,1471.1 588.5,1472.6 589.7,1474.1 591.0,1475.7 592.2,1477.2 593.5,1478.8 594.7,1480.4 596.0,1482.0 597.2,1483.6 598.5,1485.2 599.7,1486.9 601.0,1488.5 602.2,1490.2 603.5,1491.9 604.7,1493.6 606.0,1495.4 607.2,1497.1 608.5,1498.9 609.7,1500.7 611.0,1502.5 612.2,1504.3 613.5,1506.2 614.7,1508.0 616.0,1509.9 617.2,1511.8 618.5,1513.7 619.7,1515.6 621.0,1517.6 622.2,1519.5 623.5,1521.5 624.7,1523.5 626.0,1525.5 627.2,1527.5 628.5,1529.6 629.7,1531.6 631.0,1533.7 632.2,1535.8 633.4,1537.9 634.7,1540.0 635.9,1542.2 637.2,1544.3 638.4,1546.5 639.7,1548.7 640.9,1550.9 642.2,1553.1 643.4,1555.4 644.7,1557.7 645.9,1559.9 647.2,1562.2 648.4,1564.5 649.7,1566.9 650.9,1569.2 652.2,1571.6 653.4,1574.0 654.7,1576.3 655.9,1578.8 657.2,1581.2 658.4,1583.6 659.7,1586.1 660.9,1588.6 662.2,1591.1 663.4,1593.6 664.7,1596.1 665.9,1598.7 667.2,1601.2 668.4,1603.8 669.7,1606.4 670.9,1609.0" stroke="#0000ff" stroke-width="11" stroke-linecap="round"/>
<line x1="518.9" y1="1415.3" x2="668.5" y2="1609.0" stroke="#0000ff" stroke-width="11" stroke-linecap="round"/>
<polyline points="297.4,1609.0 299.2,1603.7 301.0,1598.4 302.8,1593.1 304.6,1587.8 306.5,1582.6 308.3,1577.4 310.1,1572.2 311.9,1567.0 313.7,1561.9 315.5,1556.8 317.3,1551.7 319.1,1546.6 321.0,1541.6 322.8,1536.6 324.6,1531.6 326.4,1526.6 328.2,1521.7 330.0,1516.7 331.8,1511.8 333.6,1507.0 335.5,1502.1 337.3,1497.3 339.1,1492.5 340.9,1487.7 342.7,1482.9 344.5,1478.2 346.3,1473.5 348.1,1468.8 350.0,1464.2 351.8,1459.5 353.6,1454.9 355.4,1450.3 357.2,1445.8 359.0,1441.2 360.8,1436.7 362.6,1432.2 364.5,1427.8 366.3,1423.3 368.1,1418.9 369.9,1414.5 371.7,1410.2 373.5,1405.8 375.3,1401.5 377.1,1397.2 379.0,1392.9 380.8,1388.7 382.6,1384.5 384.4,1380.3 386.2,1376.1 388.0,1371.9 389.8,1367.8 391.6,1363.7 393.5,1359.6 395.3,1355.6 397.1,1351.5 398.9,1347.5 400.7,1343.5 402.5,1339.6 404.3,1335.6 406.1,1331.7 408.0,1327.8 409.8,1324.0 411.6,1320.1 413.4,1316.3 415.2,1312.5 417.0,1308.8 418.8,1305.0 420.6,1301.3 422.5,1297.6 424.3,1293.9 426.1,1290.3 427.9,1286.6 429.7,1283.0 431.5,1279.5 433.3,1275.9 435.1,1272.4 437.0,1268.9 438.8,1265.4 440.6,1261.9 442.4,1258.5 444.2,1255.1 446.0,1251.7 447.8,1248.4 449.6,1245.0 451.5,1241.7 453.3,1238.4 455.1,1235.1 456.9,1231.9 458.7,1228.7 460.5,1225.5 462.3,1222.3 464.1,1219.2 466.0,1216.0 467.8,1212.9 469.6,1209.9 471.4,1206.8 473.2,1203.8 475.0,1200.8 476.8,1197.8 478.6,1194.8 480.4,1191.9 482.3,1189.0 484.1,1186.1 485.9,1183.2 487.7,1180.4 489.5,1177.6 491.3,1174.8 493.1,1172.0 494.9,1169.3 496.8,1166.6 498.6,1163.9 500.4,1161.2 502.2,1158.5 504.0,1155.9 505.8,1153.3 507.6,1150.7 509.4,1148.2 511.3,1145.6 513.1,1143.1 514.9,1140.6 516.7,1138.2 518.5,1135.7 520.3,1133.3 522.1,1130.9 523.9,1128.5 525.8,1126.2 527.6,1123.9 529.4,1121.6 531.2,1119.3 533.0,1117.0 534.8,1114.8 536.6,1112.6 538.4,1110.4 540.3,1108.2 542.1,1106.1 543.9,1104.0 545.7,1101.9 547.5,1099.8 549.3,1097.8 551.1,1095.7 552.9,1093.7 554.8,1091.7 556.6,1089.8 558.4,1087.9 560.2,1085.9 562.0,1084.1 563.8,1082.2 565.6,1080.4 567.4,1078.5 569.3,1076.7 571.1,1075.0 572.9,1073.2 574.7,1071.5 576.5,1069.8 578.3,1068.1 580.1,1066.4 581.9,1064.8 583.8,1063.2 585.6,1061.6 587.4,1060.0 589.2,1058.5 591.0,1057.0 592.8,1055.5 594.6,1054.0 596.4,1052.5 598.3,1051.1 600.1,1049.7 601.9,1048.3 603.7,1046.9 605.5,1045.6 607.3,1044.2 609.1,1042.9 610.9,1041.7 612.8,1040.4 614.6,1039.2 616.4,1038.0 618.2,1036.8 620.0,1035.6 621.8,1034.5 623.6,1033.4 625.4,1032.3 627.3,1031.2 629.1,1030.1 630.9,1029.1 632.7,1028.1 634.5,1027.1 636.3,1026.1 638.1,1025.2 639.9,1024.3 641.7,1023.4 643.6,1022.5 645.4,1021.6 647.2,1020.8 649.0,1020.0 650.8,1019.2 652.6,1018.4 654.4,1017.7 656.2,1016.9 658.1,1016.2 659.9,1015.5 661.7,1014.9 663.5,1014.2 665.3,1013.6 667.1,1013.0 668.9,1012.5 670.7,1011.9 672.6,1011.4 674.4,1010.9 676.2,1010.4 678.0,1009.9 679.8,1009.5 681.6,1009.0 683.4,1008.6 685.2,1008.3 687.1,1007.9 688.9,1007.6 690.7,1007.2 692.5,1007.0 694.3,1006.7 696.1,1006.4 697.9,1006.2 699.7,1006.0 701.6,1005.8 703.4,1005.6 705.2,1005.5 707.0,1005.4 708.8,1005.3 710.6,1005.2 712.4,1005.1 714.2,1005.1 716.1,1005.0 717.9,1005.0 719.7,1005.1 721.5,1005.1 723.3,1005.2 725.1,1005.2 726.9,1005.2 728.7,1005.1 730.6,1005.2 732.4,1005.2 734.2,1005.2 736.0,1005.3 737.8,1005.4 739.6,1005.5 741.4,1005.6 743.2,1005.8 745.1,1005.9 746.9,1006.1 748.7,1006.3 750.5,1006.6 752.3,1006.8 754.1,1007.1 755.9,1007.4 757.7,1007.7 759.6,1008.1 761.4,1008.4 763.2,1008.8 765.0,1009.4 766.8,1009.9 768.6,1010.5 770.4,1011.1 772.2,1011.7 774.1,1012.4 775.9,1013.0 777.7,1013.7 779.5,1014.4 781.3,1015.1 783.1,1015.9 784.9,1016.6 786.7,1017.4 788.6,1018.2 790.4,1019.0 792.2,1019.9 794.0,1020.7 795.8,1021.6 797.6,1022.5 799.4,1023.4 801.2,1024.4 803.1,1025.4 804.9,1026.3 806.7,1027.3 808.5,1028.4 810.3,1029.4 812.1,1030.5 813.9,1031.5 815.7,1032.6 817.5,1033.8 819.4,1034.9 821.2,1036.1 823.0,1037.3 824.8,1038.5 826.6,1039.7 828.4,1040.9 830.2,1042.2 832.0,1043.5 833.9,1044.8 835.7,1046.1 837.5,1047.4 839.3,1048.8 844.7,1052.7 844.7,1053.2 850.1,1056.7 850.1,1057.8 855.5,1061.0 855.5,1062.6 860.9,1065.4 860.9,1067.5 866.3,1070.0 866.3,1072.6 871.7,1074.7 871.7,1077.9 877.1,1079.9 877.1,1083.1 882.5,1085.3 882.5,1088.5 887.9,1090.8 887.9,1094.0 893.3,1096.5 893.3,1099.7 898.7,1102.4 898.7,1105.6 904.1,1108.5 904.1,1111.7 909.5,1114.9 909.5,1118.1 920.3,1128.0 920.3,1131.4 925.7,1134.8 925.7,1138.3 931.1,1141.8 931.1,1145.4 936.5,1148.9 936.5,1152.6 941.9,1156.3 941.9,1160.0 947.3,1163.7 947.3,1167.6 958.1,1179.2 958.1,1183.2 963.5,1187.2 963.5,1191.3 968.9,1195.3 968.9,1199.5 974.3,1203.6 974.3,1207.9 979.7,1212.1 979.7,1216.4 985.1,1220.7 985.1,1225.2 995.9,1238.5 995.9,1243.1 1001.3,1247.6 1001.3,1252.3 1006.7,1257.0 1006.7,1261.7 1012.1,1266.3 1012.1,1271.1 1017.5,1275.8 1017.5,1280.7 1022.9,1285.5 1022.9,1290.4 1033.7,1305.2 1033.7,1310.3 1039.1,1315.4 1039.1,1320.5 1044.5,1325.7 1044.5,1330.9 1049.9,1336.1 1049.9,1341.4 1055.3,1346.7 1055.3,1352.1 1060.7,1357.5 1060.7,1363.0 1071.5,1379.6 1071.5,1385.2 1076.9,1390.9 1076.9,1396.6 1082.3,1402.3 1082.3,1408.1 1087.7,1413.9 1087.7,1419.8 1093.1,1425.7 1093.1,1431.7 1098.5,1437.6 1098.5,1443.7 1109.3,1462.0 1109.3,1468.2 1114.7,1474.4 1114.7,1480.7 1120.1,1487.0 1120.1,1493.4 1125.5,1499.8 1125.5,1506.3 1130.9,1512.7 1130.9,1519.3 1136.3,1525.8 1136.3,1532.5 1147.1,1552.5 1147.1,1559.4 1152.5,1566.1 1152.5,1573.1 1157.9,1579.9 1157.9,1586.9 1163.3,1594.5 1163.3,1600.3 1167.7,1607.4 1167.7,1610.6" stroke="#00e000" stroke-width="11" stroke-linecap="round"/>
<polyline points="297.4,1609.0 299.3,1602.9 301.2,1596.9 303.2,1590.8 305.1,1584.8 307.0,1578.8 308.9,1572.9 310.9,1566.9 312.8,1561.0 314.7,1555.0 316.6,1549.1 318.5,1543.3 320.5,1537.4 322.4,1531.5 324.3,1525.7 326.2,1519.9 328.2,1514.1 330.1,1508.4 332.0,1502.6 333.9,1496.9 335.8,1491.1 337.8,1485.5 339.7,1479.8 341.6,1474.1 343.5,1468.5 345.5,1462.9 347.4,1457.3 349.3,1451.7 351.2,1446.1 353.1,1440.6 355.1,1435.0 357.0,1429.5 358.9,1424.0 360.8,1418.6 362.8,1413.1 364.7,1407.7 366.6,1402.3 368.5,1396.9 370.4,1391.5 372.4,1386.2 374.3,1380.8 376.2,1375.5 378.1,1370.2 380.1,1364.9 382.0,1359.7 383.9,1354.4 385.8,1349.2 387.7,1344.0 389.7,1338.8 391.6,1333.6 393.5,1328.5 395.4,1323.4 397.4,1318.3 399.3,1313.2 401.2,1308.1 403.1,1303.1 405.0,1298.0 407.0,1293.0 408.9,1288.0 410.8,1283.0 412.7,1278.1 414.7,1273.1 416.6,1268.2 418.5,1263.3 420.4,1258.5 422.3,1253.6 424.3,1248.8 426.2,1243.9 428.1,1239.1 430.0,1234.3 432.0,1229.6 433.9,1224.8 435.8,1220.1 437.7,1215.4 439.6,1210.7 441.6,1206.1 443.5,1201.4 445.4,1196.8 447.3,1192.2 449.3,1187.6 451.2,1183.0 453.1,1178.4 455.0,1173.9 456.9,1169.4 458.9,1164.9 460.8,1160.4 462.7,1156.0 464.6,1151.5 466.6,1147.1 468.5,1142.7 470.4,1138.3 472.3,1134.0 474.2,1129.6 476.2,1125.3 478.1,1121.0 480.0,1116.7 481.9,1112.5 483.9,1108.2 485.8,1104.0 487.7,1099.8 489.6,1095.6 491.5,1091.4 493.5,1087.3 495.4,1083.1 497.3,1079.0 499.2,1074.9 501.2,1070.9 503.1,1066.8 505.0,1062.8 506.9,1058.8 508.8,1054.8 510.8,1050.8 512.7,1046.8 514.6,1042.9 516.5,1039.0 518.5,1035.1 520.4,1031.2 522.3,1027.3 524.2,1023.5 526.1,1019.7 528.1,1015.9 530.0,1012.1 531.9,1008.3 533.8,1004.6 535.8,1000.8 537.7,997.1 539.6,993.4 541.5,989.8 543.4,986.1 545.4,982.5 547.3,978.9 549.2,975.3 551.1,971.7 553.1,968.1 555.0,964.6 556.9,961.1 558.8,957.6 560.7,954.1 562.7,950.6 564.6,947.2 566.5,943.8 568.4,940.4 570.4,937.0 572.3,933.6 574.2,930.3 576.1,926.9 578.0,923.6 580.0,920.3 581.9,917.1 583.8,913.8 585.7,910.6 587.7,907.4 589.6,904.2 591.5,901.0 593.4,897.8 595.3,894.7 597.3,891.6 599.2,888.5 601.1,885.4 603.0,882.3 605.0,879.3 606.9,876.3 608.8,873.2 610.7,870.3 612.6,867.3 614.6,864.3 616.5,861.4 618.4,858.5 620.3,855.6 622.3,852.7 624.2,849.9 626.1,847.0 628.0,844.2 629.9,841.4 631.9,838.6 633.8,835.9 635.7,833.1 637.6,830.4 639.6,827.7 641.5,825.0 643.4,822.3 645.3,819.7 647.2,817.0 649.2,814.4 651.1,811.8 653.0,809.2 654.9,806.7 656.9,804.1 658.8,801.6 660.7,799.1 662.6,796.6 664.5,794.2 666.5,791.7 668.4,789.3 670.3,786.9 672.2,784.5 674.2,782.1 676.1,779.8 678.0,777.4 679.9,775.1 681.8,772.8 683.8,770.5 685.7,768.2 687.6,766.0 689.5,763.8 691.5,761.6 693.4,759.4 695.3,757.2 697.2,755.0 699.1,752.9 701.1,750.8 703.0,748.7 704.9,746.6 706.8,744.6 708.8,742.5 710.7,740.5 712.6,738.5 714.5,736.5 716.4,734.5 718.4,732.6 720.3,730.6 722.2,728.7 724.1,726.8 726.1,724.9 728.0,723.1 729.9,721.2 731.8,719.4 733.7,717.6 735.7,715.8 737.6,713.9 739.5,712.1 741.4,710.2 743.4,708.4 745.3,706.6 747.2,704.9 749.1,703.1 751.0,701.4 753.0,699.7 754.9,698.0 756.8,696.3 758.7,694.6 760.7,693.0 762.6,691.3 764.5,689.7 766.4,688.1 768.3,686.5 770.3,685.0 772.2,683.4 774.1,681.9 776.0,680.4 778.0,678.9 779.9,677.5 781.8,676.1 783.7,674.8 785.6,673.5 787.6,672.1 789.5,670.8 791.4,669.6 793.3,668.3 795.3,667.1 797.2,665.8 799.1,664.6 801.0,663.4 802.9,662.3 804.9,661.1 806.8,660.0 808.7,658.9 810.6,657.8 812.6,656.7 814.5,655.6 816.4,654.5 818.3,653.5 820.2,652.5 822.2,651.5 824.1,650.6 826.0,649.7 827.9,648.8 829.9,647.9 831.8,647.1 833.7,646.3 835.6,645.4 837.5,644.7 839.5,643.9 841.4,643.1 843.3,642.4 845.2,641.7 847.2,641.0 849.1,640.3 851.0,639.6 852.9,638.9 854.8,638.3 856.8,637.7 858.7,637.1 860.6,636.5 862.5,635.9 864.5,635.4 866.4,634.8 868.3,634.3 870.2,633.8 872.1,633.3 877.7,631.7 877.7,632.3 883.3,629.8 883.3,630.9 888.9,628.1 888.9,629.7 894.5,626.5 894.5,628.7 900.1,625.1 900.1,627.8 905.7,623.8 905.7,627.0 911.3,622.9 911.3,626.1 916.9,622.2 916.9,625.4 922.5,621.6 922.5,624.8 928.1,621.1 928.1,624.3 933.7,624.4 933.7,627.6 939.3,623.9 939.3,627.1 944.9,623.6 944.9,626.8 950.5,623.4 950.5,626.6 956.1,623.3 956.1,626.5 961.7,623.3 961.7,626.5 967.3,623.5 967.3,626.7 972.9,623.9 972.9,627.1 978.5,624.2 978.5,627.4 984.1,624.7 984.1,627.9 989.7,625.4 989.7,628.6 995.3,626.1 995.3,629.3 1000.9,627.2 1000.9,630.4 1006.5,628.5 1006.5,631.7 1012.1,629.9 1012.1,633.1 1017.7,631.4 1017.7,634.6 1023.3,633.1 1023.3,636.3 1034.5,641.3 1034.5,644.5 1040.1,643.3 1040.1,646.5 1045.7,645.5 1045.7,648.7 1051.3,647.7 1051.3,650.9 1056.9,650.1 1056.9,653.3 1062.5,652.7 1062.5,655.9 1068.1,655.7 1068.1,658.9 1073.7,658.8 1073.7,662.0 1079.3,662.0 1079.3,665.2 1084.9,665.4 1084.9,668.6 1090.5,668.9 1090.5,672.1 1096.1,672.5 1096.1,675.7 1101.7,676.3 1101.7,679.5 1107.3,680.2 1107.3,683.4 1112.9,684.2 1112.9,687.4 1118.5,688.3 1118.5,691.5 1124.1,692.6 1124.1,695.8 1129.7,696.9 1129.7,700.1 1135.3,701.4 1135.3,704.6 1140.9,706.1 1140.9,709.3 1146.5,710.8 1146.5,714.0 1152.1,715.7 1152.1,718.9 1157.7,720.7 1157.7,723.9 1163.3,725.8 1163.3,729.0 1168.9,731.0 1168.9,734.2 1174.5,736.4 1174.5,739.6 1180.1,741.9 1180.1,745.1 1185.7,747.5 1185.7,750.7 1191.3,753.2 1191.3,756.4 1196.9,759.1 1196.9,762.3 1202.5,765.1 1202.5,768.3 1208.1,771.4 1208.1,774.6 1213.7,777.7 1213.7,781.0 1219.3,784.2 1219.3,787.5 1230.5,797.6 1230.5,801.0 1236.1,804.4 1236.1,807.9 1241.7,811.4 1241.7,814.9 1247.3,818.5 1247.3,822.1 1252.9,825.7 1252.9,829.3 1258.5,833.0 1258.5,836.7 1269.7,848.0 1269.7,851.8 1275.3,855.7 1275.3,859.5 1280.9,863.4 1280.9,867.3 1286.5,871.2 1286.5,875.2 1292.1,879.2 1292.1,883.2 1297.7,887.3 1297.7,891.4 1308.9,903.8 1308.9,908.0 1314.5,912.2 1314.5,916.5 1320.1,920.8 1320.1,925.1 1325.7,929.4 1325.7,933.9 1331.3,938.2 1331.3,942.7 1336.9,947.1 1336.9,951.7 1348.1,965.4 1348.1,970.1 1353.7,974.7 1353.7,979.5 1359.3,984.2 1359.3,989.0 1364.9,993.8 1364.9,998.6 1370.5,1003.4 1370.5,1008.4 1376.1,1013.2 1376.1,1018.2 1387.3,1033.2 1387.3,1038.3 1392.9,1043.4 1392.9,1048.5 1398.5,1053.6 1398.5,1058.8 1404.1,1064.0 1404.1,1069.3 1409.7,1074.5 1409.7,1079.9 1415.3,1085.2 1415.3,1090.6 1426.5,1106.8 1426.5,1112.3 1432.1,1117.8 1432.1,1123.4 1437.7,1128.9 1437.7,1134.6 1443.3,1140.2 1443.3,1145.8 1448.9,1151.5 1448.9,1157.3 1454.5,1163.0 1454.5,1168.8 1465.7,1186.3 1465.7,1192.3 1471.3,1198.2 1471.3,1204.2 1476.9,1210.1 1476.9,1216.2 1482.5,1222.2 1482.5,1228.4 1488.1,1234.4 1488.1,1240.6 1493.7,1246.8 1493.7,1253.0 1504.9,1271.8 1504.9,1278.2 1510.5,1284.6 1510.5,1291.0 1516.1,1297.4 1516.1,1303.9 1521.7,1310.4 1521.7,1316.9 1527.3,1323.5 1527.3,1330.1 1532.9,1336.7 1532.9,1343.4 1544.1,1363.5 1544.1,1370.3 1549.7,1377.1 1549.7,1384.0 1555.3,1390.9 1555.3,1397.8 1560.9,1404.7 1560.9,1411.6 1566.5,1418.5 1566.5,1425.6 1572.1,1432.6 1572.1,1439.7 1583.3,1461.0 1583.3,1468.2 1588.9,1475.4 1588.9,1482.7 1594.5,1490.0 1594.5,1497.4 1600.1,1504.7 1600.1,1512.1 1605.7,1519.5 1605.7,1527.0 1611.3,1534.5 1611.3,1542.0 1622.5,1564.8 1622.5,1572.5 1628.1,1580.2 1628.1,1588.0 1633.7,1597.3 1633.7,1602.0 1637.1,1607.4 1637.1,1610.6" stroke="#ff8000" stroke-width="11" stroke-linecap="round"/>
<polyline points="297.4,1609.0 299.9,1600.3 302.4,1591.6 304.8,1583.0 307.3,1574.3 309.8,1565.7 312.3,1557.2 314.8,1548.6 317.2,1540.1 319.7,1531.6 322.2,1523.1 324.7,1514.7 327.2,1506.2 329.6,1497.8 332.1,1489.5 334.6,1481.1 337.1,1472.8 339.6,1464.5 342.1,1456.2 344.5,1448.0 347.0,1439.8 349.5,1431.6 352.0,1423.4 354.5,1415.3 356.9,1407.1 359.4,1399.0 361.9,1391.0 364.4,1382.9 366.9,1374.9 369.3,1366.9 371.8,1359.0 374.3,1351.0 376.8,1343.1 379.3,1335.2 381.7,1327.3 384.2,1319.5 386.7,1311.7 389.2,1303.9 391.7,1296.1 394.1,1288.4 396.6,1280.7 399.1,1273.0 401.6,1265.4 404.1,1257.7 406.5,1250.1 409.0,1242.5 411.5,1235.0 414.0,1227.5 416.5,1220.0 418.9,1212.5 421.4,1205.0 423.9,1197.6 426.4,1190.2 428.9,1182.8 431.4,1175.5 433.8,1168.2 436.3,1160.9 438.8,1153.6 441.3,1146.3 443.8,1139.1 446.2,1131.9 448.7,1124.8 451.2,1117.6 453.7,1110.5 456.2,1103.4 458.6,1096.4 461.1,1089.3 463.6,1082.3 466.1,1075.3 468.6,1068.4 471.0,1061.4 473.5,1054.5 476.0,1047.6 478.5,1040.8 481.0,1034.0 483.4,1027.2 485.9,1020.4 488.4,1013.6 490.9,1006.9 493.4,1000.2 495.8,993.5 498.3,986.9 500.8,980.3 503.3,973.7 505.8,967.1 508.2,960.6 510.7,954.1 513.2,947.6 515.7,941.1 518.2,934.7 520.7,928.3 523.1,921.9 525.6,915.6 528.1,909.3 530.6,903.0 533.1,896.7 535.5,890.5 538.0,884.3 540.5,878.1 543.0,871.9 545.5,865.8 547.9,859.7 550.4,853.6 552.9,847.5 555.4,841.5 557.9,835.5 560.3,829.5 562.8,823.6 565.3,817.7 567.8,811.8 570.3,805.9 572.7,800.0 575.2,794.2 577.7,788.4 580.2,782.7 582.7,776.9 585.1,771.2 587.6,765.5 590.1,759.9 592.6,754.2 595.1,748.6 597.5,743.0 600.0,737.5 602.5,731.9 605.0,726.4 607.5,720.9 610.0,715.5 612.4,710.1 614.9,704.6 617.4,699.3 619.9,693.9 622.4,688.6 624.8,683.3 627.3,678.0 629.8,672.8 632.3,667.6 634.8,662.4 637.2,657.2 639.7,652.0 642.2,646.9 644.7,641.8 647.2,636.8 649.6,631.7 652.1,626.7 654.6,621.7 657.1,616.8 659.6,611.8 662.0,606.9 664.5,602.0 667.0,597.2 669.5,592.4 672.0,587.5 674.4,582.8 676.9,578.0 679.4,573.3 681.9,568.6 684.4,563.9 686.8,559.3 689.3,554.6 691.8,550.0 694.3,545.5 696.8,540.9 699.3,536.4 701.7,531.9 704.2,527.4 706.7,523.0 709.2,518.5 711.7,514.2 714.1,509.8 716.6,505.4 719.1,501.1 721.6,496.8 724.1,492.6 726.5,488.3 729.0,484.1 731.5,479.9 734.0,475.8 736.5,471.6 738.9,467.5 741.4,463.4 743.9,459.4 746.4,455.4 748.9,451.4 751.3,447.4 753.8,443.4 756.3,439.5 758.8,435.6 761.3,431.7 763.7,427.9 766.2,424.1 768.7,420.3 771.2,416.5 773.7,412.7 776.1,409.0 778.6,405.3 781.1,401.7 783.6,398.0 786.1,394.4 788.6,390.8 791.0,387.2 793.5,383.7 796.0,380.2 798.5,376.7 801.0,373.2 803.4,369.7 805.9,366.3 808.4,362.9 810.9,359.6 813.4,356.2 815.8,352.9 818.3,349.6 820.8,346.3 823.3,343.1 825.8,339.9 828.2,336.7 830.7,333.5 833.2,330.4 835.7,327.2 838.2,324.2 840.6,321.1 843.1,318.0 845.6,315.0 848.1,312.0 850.6,309.1 853.0,306.1 855.5,303.2 858.0,300.3 860.5,297.4 863.0,294.6 865.4,291.8 867.9,289.0 870.4,286.2 872.9,283.4 875.4,280.7 877.9,278.0 880.3,275.3 882.8,272.6 885.3,270.0 887.8,267.4 890.3,264.8 892.7,262.2 895.2,259.6 897.7,257.1 900.2,254.6 902.7,252.1 905.1,249.7 907.6,247.2 910.1,244.8 912.6,242.4 915.1,240.1 917.5,237.8 920.0,235.4 922.5,233.2 925.0,230.9 927.5,228.7 929.9,226.4 932.4,224.3 934.9,222.1 937.4,220.0 939.9,217.8 942.3,215.8 944.8,213.7 947.3,211.6 949.8,209.6 952.3,207.6 954.7,205.7 957.2,203.7 959.7,201.8 962.2,199.9 964.7,198.0 967.2,196.2 969.6,194.3 972.1,192.5 974.6,190.7 977.1,189.0 979.6,187.3 982.0,185.5 984.5,183.9 987.0,182.2 989.5,180.6 992.0,178.9 994.4,177.4 996.9,175.8 999.4,174.2 1001.9,172.7 1004.4,171.2 1006.8,169.8 1009.3,168.3 1011.8,166.9 1014.3,165.5 1016.8,164.1 1019.2,162.7 1021.7,161.4 1024.2,160.1 1026.7,158.8 1029.2,157.5 1031.6,156.3 1034.1,155.1 1036.6,153.9 1039.1,152.7 1046.6,148.7 1046.6,150.0 1054.1,144.9 1054.1,147.4 1061.6,141.3 1061.6,145.1 1069.1,137.9 1069.1,143.0 1076.6,135.1 1076.6,140.7 1084.1,132.7 1084.1,138.3 1091.6,130.6 1091.6,136.2 1099.1,128.7 1099.1,134.3 1106.6,126.7 1106.6,132.3 1114.1,124.8 1114.1,130.4 1121.6,123.0 1121.6,128.6 1129.1,121.5 1129.1,127.1 1136.6,119.8 1136.6,125.4 1144.1,118.2 1144.1,123.8 1151.6,116.9 1151.6,122.5 1159.1,115.7 1159.1,121.3 1166.6,120.9 1166.6,126.5 1174.1,120.9 1174.1,126.5 1181.6,121.1 1181.6,126.7 1189.1,121.5 1189.1,127.1 1196.6,121.4 1196.6,127.0 1204.1,121.4 1204.1,127.0 1211.6,121.7 1211.6,127.3 1219.1,122.3 1219.1,127.9 1226.6,123.2 1226.6,128.8 1234.1,124.3 1234.1,129.9 1241.6,125.7 1241.6,131.3 1249.1,127.2 1249.1,132.8 1256.6,128.9 1256.6,134.5 1264.1,130.9 1264.1,136.5 1271.6,133.0 1271.6,138.6 1279.1,135.1 1279.1,140.7 1286.6,137.3 1286.6,142.9 1294.1,142.9 1294.1,148.5 1301.6,150.6 1301.6,156.2 1309.1,154.3 1309.1,159.9 1316.6,158.3 1316.6,163.9 1324.1,162.5 1324.1,168.1 1331.6,166.8 1331.6,172.4 1339.1,171.3 1339.1,176.9 1346.6,176.1 1346.6,181.7 1354.1,181.0 1354.1,186.6 1361.6,186.0 1361.6,191.6 1369.1,190.9 1369.1,196.5 1376.6,196.0 1376.6,201.6 1384.1,201.4 1384.1,207.0 1391.6,206.9 1391.6,212.5 1399.1,212.5 1399.1,218.1 1406.6,218.4 1406.6,224.0 1414.1,224.5 1414.1,230.1 1421.6,230.7 1421.6,236.3 1429.1,237.1 1429.1,242.7 1436.6,243.7 1436.6,249.3 1444.1,250.4 1444.1,256.0 1451.6,257.2 1451.6,262.8 1459.1,264.1 1459.1,269.7 1466.6,271.2 1466.6,276.8 1474.1,278.5 1474.1,284.1 1481.6,285.9 1481.6,291.5 1489.1,293.6 1489.1,299.2 1496.6,301.4 1496.6,307.0 1504.1,309.4 1504.1,315.0 1519.1,326.0 1519.1,331.6 1526.6,335.1 1526.6,340.7 1534.1,344.4 1534.1,350.0 1541.6,353.8 1541.6,359.4 1549.1,363.4 1549.1,369.0 1556.6,373.2 1556.6,378.8 1571.6,393.3 1571.6,399.0 1579.1,403.6 1579.1,409.3 1586.6,414.0 1586.6,419.9 1594.1,424.6 1594.1,430.6 1601.6,435.4 1601.6,441.5 1609.1,446.3 1609.1,452.6 1624.1,469.3 1624.1,475.8 1631.6,481.1 1631.6,487.7 1639.1,493.1 1639.1,499.7 1646.6,505.1 1646.6,511.7 1654.1,517.0 1654.1,523.6 1661.6,529.0 1661.6,535.7 1676.6,553.5 1676.6,560.5 1684.1,566.1 1684.1,573.1 1691.6,578.8 1691.6,585.9 1699.1,591.7 1699.1,598.9 1706.6,604.7 1706.6,612.1 1714.1,618.0 1714.1,625.4 1729.1,645.0 1729.1,652.6 1736.6,658.7 1736.6,666.4 1744.1,672.7 1744.1,680.4 1751.6,686.8 1751.6,694.6 1759.1,701.0 1759.1,709.0 1766.6,715.5 1766.6,723.6 1781.6,744.9 1781.6,753.2 1789.1,759.9 1789.1,768.3 1796.6,775.0 1796.6,783.5 1804.1,790.4 1804.1,798.9 1811.6,805.9 1811.6,814.5 1819.1,821.5 1819.1,830.3 1834.1,853.4 1834.1,862.4 1841.6,869.6 1841.6,878.7 1849.1,886.0 1849.1,895.2 1856.6,902.6 1856.6,911.8 1864.1,919.3 1864.1,928.7 1871.6,936.2 1871.6,945.7 1886.6,970.6 1886.6,980.3 1894.1,988.1 1894.1,997.8 1901.6,1005.7 1901.6,1015.5 1909.1,1023.5 1909.1,1033.5 1916.6,1041.5 1916.6,1051.6 1924.1,1059.7 1924.1,1069.9 1939.1,1096.6 1939.1,1107.0 1946.6,1115.4 1946.6,1125.8 1954.1,1134.3 1954.1,1144.8 1961.6,1153.4 1961.6,1164.1 1969.1,1172.7 1969.1,1183.5 1976.6,1192.2 1976.6,1203.0 1991.6,1231.7 1991.6,1242.8 1999.1,1251.8 1999.1,1262.9 2006.6,1272.0 2006.6,1283.3 2014.1,1292.4 2014.1,1303.8 2021.6,1313.1 2021.6,1324.6 2029.1,1333.9 2029.1,1345.5 2044.1,1376.1 2044.1,1387.9 2051.6,1397.5 2051.6,1409.4 2059.1,1419.1 2059.1,1431.2 2066.6,1440.9 2066.6,1453.1 2074.1,1462.9 2074.1,1475.2 2081.6,1485.1 2081.6,1497.5 2096.6,1530.2 2096.6,1542.7 2104.1,1553.0 2104.1,1565.7 2111.6,1576.0 2111.6,1588.8 2119.1,1602.9 2119.1,1608.5 2120.1,1606.2 2120.1,1611.8" stroke="#ff0000" stroke-width="11" stroke-linecap="round"/>
</g>
<g stroke="#000" stroke-width="5.3" fill="none" stroke-linecap="butt">
<line x1="267.1" y1="62.5" x2="2242.9" y2="62.5"/>
<line x1="267.1" y1="1609.0" x2="2242.9" y2="1609.0"/>
<line x1="297.4" y1="59.9" x2="297.4" y2="1638.7"/>
<line x1="2213.2" y1="59.9" x2="2213.2" y2="1638.7"/>
<path d="M267.1 1351.2H297.4M267.1 1093.5H297.4M267.1 835.7H297.4M267.1 578.0H297.4M267.1 320.2H297.4M282.8 1480.1H297.4M282.8 1222.4H297.4M282.8 964.6H297.4M282.8 706.9H297.4M282.8 449.1H297.4M282.8 191.4H297.4M2213.2 1437.2H2242.9M2213.2 1265.3H2242.9M2213.2 1093.5H2242.9M2213.2 921.7H2242.9M2213.2 749.8H2242.9M2213.2 578.0H2242.9M2213.2 406.2H2242.9M2213.2 234.3H2242.9M2213.2 1523.1H2227.8M2213.2 1351.2H2227.8M2213.2 1179.4H2227.8M2213.2 1007.6H2227.8M2213.2 835.8H2227.8M2213.2 663.9H2227.8M2213.2 492.1H2227.8M2213.2 320.2H2227.8M2213.2 148.4H2227.8M571.1 1609.0V1638.7M844.8 1609.0V1638.7M1118.5 1609.0V1638.7M1392.1 1609.0V1638.7M1665.8 1609.0V1638.7M1939.5 1609.0V1638.7M434.2 1609.0V1623.6M707.9 1609.0V1623.6M981.6 1609.0V1623.6M1255.3 1609.0V1623.6M1529.0 1609.0V1623.6M1802.7 1609.0V1623.6M2076.4 1609.0V1623.6"/>
</g>
<g font-size="66">
<text x="245.5" y="1627.6" text-anchor="end">0</text>
<text x="245.5" y="1369.8" text-anchor="end">0.2</text>
<text x="245.5" y="1112.1" text-anchor="end">0.4</text>
<text x="245.5" y="854.3" text-anchor="end">0.6</text>
<text x="245.5" y="596.6" text-anchor="end">0.8</text>
<text x="245.5" y="338.9" text-anchor="end">1</text>
<text x="245.5" y="81.1" text-anchor="end">1.2</text>
<text x="2263" y="1627.6">0</text>
<text x="2263" y="1455.8">1</text>
<text x="2263" y="1283.9">2</text>
<text x="2263" y="1112.1">3</text>
<text x="2263" y="940.3">4</text>
<text x="2263" y="768.4">5</text>
<text x="2263" y="596.6">6</text>
<text x="2263" y="424.8">7</text>
<text x="2263" y="252.9">8</text>
<text x="2263" y="81.1">9</text>
<text x="297.4" y="1710" text-anchor="middle">0</text>
<text x="571.1" y="1710" text-anchor="middle">5</text>
<text x="844.8" y="1710" text-anchor="middle">10</text>
<text x="1118.5" y="1710" text-anchor="middle">15</text>
<text x="1392.1" y="1710" text-anchor="middle">20</text>
<text x="1665.8" y="1710" text-anchor="middle">25</text>
<text x="1939.5" y="1710" text-anchor="middle">30</text>
<text x="2213.2" y="1710" text-anchor="middle">35</text>
</g>
<g font-size="80.8">
<text x="1255.5" y="1848" text-anchor="middle">I [mA/cm<tspan font-size="55" dy="-33">2</tspan><tspan dy="33">]</tspan></text>
<text transform="translate(103.7 834) rotate(-90)" text-anchor="middle">U [V]</text>
<text transform="translate(2398.2 834) rotate(-90)" text-anchor="middle">P [mW/cm<tspan font-size="55" dy="-33">2</tspan><tspan dy="33">]</tspan></text>
</g>
<rect x="1793.75" y="94.1" width="350.25" height="574.8" fill="#fff" stroke="#000" stroke-width="1.5"/>
<g font-size="58" stroke-width="11" stroke-linecap="round">
<line x1="1801.6" y1="134.7" x2="1930" y2="134.7" stroke="#0000ff" stroke-dasharray="17.8 34"/>
<text x="1947" y="153.2">I-U 700</text>
<line x1="1801.6" y1="206.4" x2="1930" y2="206.4" stroke="#00e000" stroke-dasharray="17.8 34"/>
<text x="1947" y="225.0">I-U 750</text>
<line x1="1801.6" y1="278.1" x2="1930" y2="278.1" stroke="#ff8000" stroke-dasharray="17.8 34"/>
<text x="1947" y="296.7">I-U 800</text>
<line x1="1801.6" y1="349.8" x2="1930" y2="349.8" stroke="#ff0000" stroke-dasharray="17.8 34"/>
<text x="1947" y="368.4">I-U 850</text>
<line x1="1801.6" y1="421.5" x2="1931.3" y2="421.5" stroke="#0000ff"/>
<text x="1947" y="440.1">I-P 700</text>
<line x1="1801.6" y1="493.1" x2="1931.3" y2="493.1" stroke="#00e000"/>
<text x="1947" y="511.8">I-P 750</text>
<line x1="1801.6" y1="564.9" x2="1931.3" y2="564.9" stroke="#ff8000"/>
<text x="1947" y="583.5">I-P 800</text>
<line x1="1801.6" y1="636.6" x2="1931.3" y2="636.6" stroke="#ff0000"/>
<text x="1947" y="655.2">I-P 850</text>
</g>
<text x="1197" y="2050.6" text-anchor="middle" font-size="86" letter-spacing="-3" style="font-family:'Liberation Serif','Times New Roman',serif">(<tspan font-weight="bold">a</tspan>)</text>
</svg></body></html>
